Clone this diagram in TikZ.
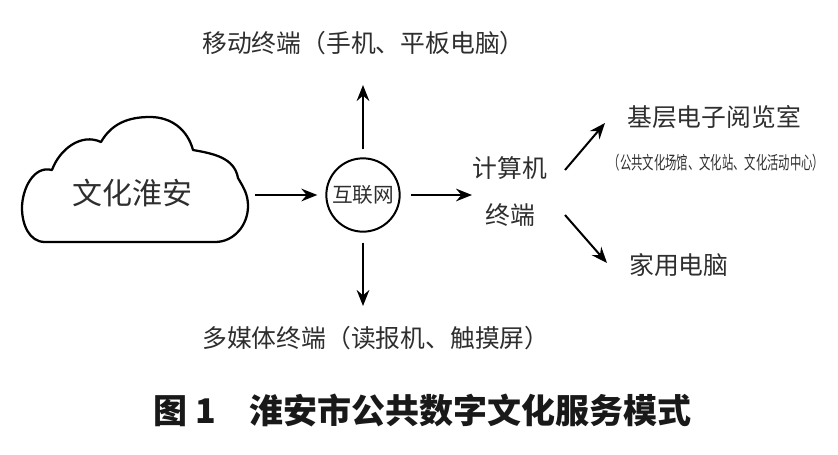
\documentclass[tikz,border=0pt]{standalone}
\usepackage{fontspec}
\newfontfamily\cjk{Noto Sans CJK SC}
\usetikzlibrary{arrows.meta}
\tikzstyle{term} = [inner sep=0pt, anchor=west, text=black!82, font=\cjk\fontsize{18.6pt}{35pt}\selectfont]
\tikzstyle{small} = [inner sep=0pt, text=black!82, font=\cjk\fontsize{13.5pt}{16pt}\selectfont]
\tikzstyle{net} = [circle, draw, line width=1.5pt, minimum size=55pt, inner sep=0pt, text=black!82, font=\cjk\fontsize{15.5pt}{18pt}\selectfont]
\tikzstyle{arr} = [->, line width=1.5pt]
\tikzstyle{cloudline} = [line width=1.7pt, line join=round]

\begin{document}
\begin{tikzpicture}[x=0.75pt, y=-0.75pt, >={Stealth[length=12pt, width=9.5pt, inset=4pt]}]
    \useasboundingbox (0,0) rectangle (838,454);

    % Wolke
    \draw[cloudline] (45,242) -- (215,242)
        to[out=0,in=-90] (248,206)
        to[out=90,in=-60] (238,178)
        to[out=100,in=-10] (193,150)
        to[out=105,in=0] (150,117)
        to[out=180,in=60] (101,142)
        to[out=155,in=70] (52,170)
        to[out=165,in=90] (22,208)
        to[out=-90,in=180] (45,242) -- cycle;
    \node[inner sep=0pt, text=black!82, font=\cjk\fontsize{22.5pt}{26pt}\selectfont] (cloud) at (132,193) {文化淮安};
    \coordinate (cloudE) at (248,195);

    \node[net] (net) at (363,195) {互联网};

    \node[term] (mobile) at (202,43) {移动终端（手机、平板电脑）};
    \node[term] (media) at (202,338) {多媒体终端（读报机、触摸屏）};
    \node[term, anchor=center, align=center] (comp) at (510,191.5) {计算机\\终端};
    \node[term] (room) at (627,117) {基层电子阅览室};
    \node[small] (roomsub) at (716.5,163) {\scalebox{0.63}[1]{（公共文化场馆、文化站、文化活动中心）}};
    \node[term] (home) at (629,265) {家用电脑};

    \node[inner sep=0pt, anchor=west, text=black!90, font=\cjk\bfseries\fontsize{25.5pt}{30pt}\selectfont] (caption) at (153,410) {图 1\quad 淮安市公共数字文化服务模式};

    % Pfeile
    \coordinate (mobileIn) at (363,85);
    \coordinate (mediaIn) at (363,306);
    \coordinate (compIn) at (472,195);
    \coordinate (compUp) at (565,170);
    \coordinate (roomIn) at (605,123);
    \coordinate (compDown) at (565,215);
    \coordinate (homeIn) at (607,263);

    \draw[arr, shorten <=5.25pt, shorten >=6pt] (cloudE) -- (net);
    \draw[arr, shorten <=6pt] (net) -- (mobileIn);
    \draw[arr, shorten <=7.5pt] (net) -- (mediaIn);
    \draw[arr, shorten <=7.9pt] (net) -- (compIn);
    \draw[arr] (compUp) -- (roomIn);
    \draw[arr] (compDown) -- (homeIn);
\end{tikzpicture}
\end{document}
